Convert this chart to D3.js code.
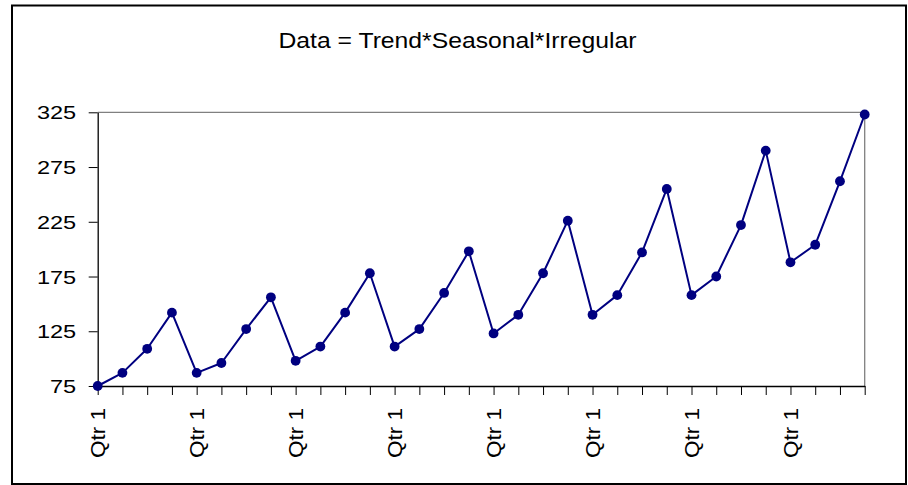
<!DOCTYPE html>
<html>
<head>
<meta charset="utf-8">
<script src="https://cdn.jsdelivr.net/npm/d3@7"></script>
<style>
  html, body { margin: 0; padding: 0; background: #fff; }
  svg { display: block; font-family: Arial, "Liberation Sans", sans-serif; }
</style>
</head>
<body>
<svg id="chart" width="908" height="485"></svg>
<script>
// Quarterly series: 8 years of Qtr 1..Qtr 4
const quarters = ["Qtr 1", "Qtr 2", "Qtr 3", "Qtr 4"];
const categories = d3.range(32).map(i => quarters[i % 4] + "#" + Math.floor(i / 4));
const values = [75, 87, 109, 142, 87, 96, 127, 156,
                 98, 111, 142, 178, 111, 127, 160, 198,
                 123, 140, 178, 226, 140, 158, 197, 255,
                 158, 175, 222, 290, 188, 204, 262, 323];
const yTicks = [75, 125, 175, 225, 275, 325];
const title = "Data = Trend*Seasonal*Irregular";

const svg = d3.select("#chart");
const plotLeft = 97.7, plotRight = 864.7, plotTop = 112.3, plotBottom = 386;

// Outer chart frame
svg.append("rect")
  .attr("x", 12).attr("y", 5.5).attr("width", 894).attr("height", 478.5)
  .attr("fill", "#fff").attr("stroke", "#000").attr("stroke-width", 2);

// Title
svg.append("text")
  .attr("x", 457.5).attr("y", 47.5)
  .attr("text-anchor", "middle")
  .attr("font-size", 21.5)
  .attr("textLength", 358).attr("lengthAdjust", "spacingAndGlyphs")
  .attr("fill", "#000")
  .text(title);

const x = d3.scalePoint().domain(categories).range([plotLeft, plotRight]);
const y = d3.scaleLinear().domain([75, 325]).range([plotBottom, plotTop]);

// Plot area border (top and right edges in grey)
svg.append("path")
  .attr("d", `M${plotLeft},${plotTop}H${plotRight}V${plotBottom}`)
  .attr("fill", "none").attr("stroke", "#808080").attr("stroke-width", 1.3);

// Y axis
const yAxis = svg.append("g")
  .attr("transform", `translate(${plotLeft},0)`)
  .call(d3.axisLeft(y).tickValues(yTicks).tickSize(9).tickSizeOuter(0).tickPadding(12));
yAxis.select(".domain").attr("stroke", "#000").attr("stroke-width", 1.3);
yAxis.selectAll(".tick line").attr("stroke", "#000");
yAxis.selectAll(".tick text")
  .attr("font-size", 18.2)
  .attr("font-family", "Arial, 'Liberation Sans', sans-serif")
  .attr("fill", "#000")
  .attr("dy", "0.36em")
  .attr("x", -21.5)
  .attr("textLength", d => String(d).length * 13.1)
  .attr("lengthAdjust", "spacingAndGlyphs");

// X axis: tick at every quarter, label on each Qtr 1
const xAxis = svg.append("g")
  .attr("transform", `translate(0,${plotBottom})`)
  .call(d3.axisBottom(x).tickSize(9).tickSizeOuter(0).tickFormat(() => ""));
xAxis.select(".domain").attr("stroke", "#000").attr("stroke-width", 1.3);
xAxis.selectAll(".tick line").attr("stroke", "#000");
xAxis.selectAll(".tick text").remove();

svg.append("g").selectAll("text")
  .data(categories.filter((c, i) => i % 4 === 0))
  .join("text")
  .attr("transform", d => `translate(${x(d) + 7.5},408) rotate(-90)`)
  .attr("text-anchor", "end")
  .attr("font-size", 20.5)
  .attr("textLength", 50).attr("lengthAdjust", "spacingAndGlyphs")
  .attr("fill", "#000")
  .text(d => d.split("#")[0]);

// Series line and markers
const navy = "#000080";
svg.append("path")
  .datum(values)
  .attr("fill", "none")
  .attr("stroke", navy)
  .attr("stroke-width", 2)
  .attr("stroke-linejoin", "round")
  .attr("d", d3.line().x((d, i) => x(categories[i])).y(d => y(d)));

svg.append("g").selectAll("circle")
  .data(values)
  .join("circle")
  .attr("cx", (d, i) => x(categories[i]))
  .attr("cy", d => y(d))
  .attr("r", 4.9)
  .attr("fill", navy);
</script>
</body>
</html>
